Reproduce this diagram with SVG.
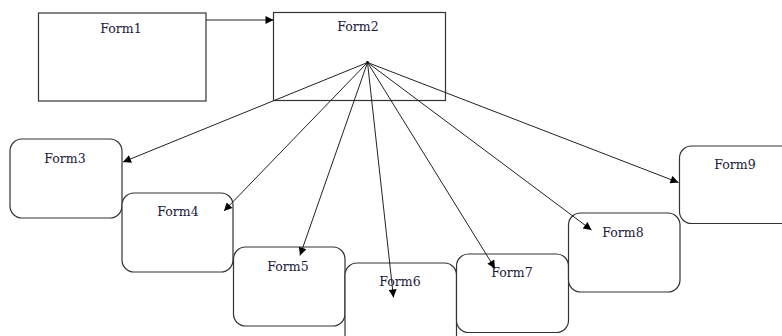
<svg xmlns="http://www.w3.org/2000/svg" width="782" height="336" viewBox="0 0 782 336">
<style>
.box{fill:#fff;stroke:#333;stroke-width:1.2}
.lbl{font-family:'DejaVu Serif','Liberation Serif',serif;font-size:12.5px;fill:#1a1a3a;text-anchor:middle}
.edge{stroke:#222;stroke-width:1;fill:none;marker-end:url(#arr)}
</style>
<defs>
<marker id="arr" viewBox="0 0 10 10" refX="10" refY="5" markerWidth="10" markerHeight="8" markerUnits="userSpaceOnUse" orient="auto">
<path d="M0,0 L10,5 L0,10 z" fill="#000"/>
</marker>
</defs>
<rect width="782" height="336" fill="#fff"/>
<g id="form1"><rect class="box" x="38.5" y="13" width="167.5" height="88"/><text class="lbl" x="121" y="33">Form1</text></g>
<g id="form2"><rect class="box" x="273.5" y="12.5" width="172" height="88"/><text class="lbl" x="358" y="31">Form2</text></g>
<g id="form3"><rect class="box" x="10" y="139" width="112" height="79" rx="12"/><text class="lbl" x="65" y="163">Form3</text></g>
<g id="form4"><rect class="box" x="122" y="193" width="111" height="79" rx="12"/><text class="lbl" x="178" y="216">Form4</text></g>
<g id="form5"><rect class="box" x="233.5" y="247" width="111.5" height="79" rx="12"/><text class="lbl" x="288" y="271">Form5</text></g>
<g id="form6"><rect class="box" x="345" y="263" width="111.5" height="90" rx="12"/><text class="lbl" x="400" y="286">Form6</text></g>
<g id="form7"><rect class="box" x="456.5" y="254" width="112" height="78.5" rx="12"/><text class="lbl" x="512" y="277">Form7</text></g>
<g id="form8"><rect class="box" x="568.5" y="213" width="111.5" height="79" rx="12"/><text class="lbl" x="623" y="237">Form8</text></g>
<g id="form9"><rect class="box" x="679.5" y="146" width="118" height="77.5" rx="12"/><text class="lbl" x="735" y="169">Form9</text></g>
<circle cx="367.5" cy="62.5" r="1.6" fill="#000"/>
<g id="connectors">
<path class="edge" d="M206,20 H273.5"/>
<path class="edge" d="M367.5,62.5 L123,162"/>
<path class="edge" d="M367.5,62.5 L224,211"/>
<path class="edge" d="M367.5,62.5 L300,255.5"/>
<path class="edge" d="M367.5,62.5 L393.5,297.5"/>
<path class="edge" d="M367.5,62.5 L495,268.5"/>
<path class="edge" d="M367.5,62.5 L591.5,230"/>
<path class="edge" d="M367.5,62.5 L678.5,182.5"/>
</g>
</svg>
